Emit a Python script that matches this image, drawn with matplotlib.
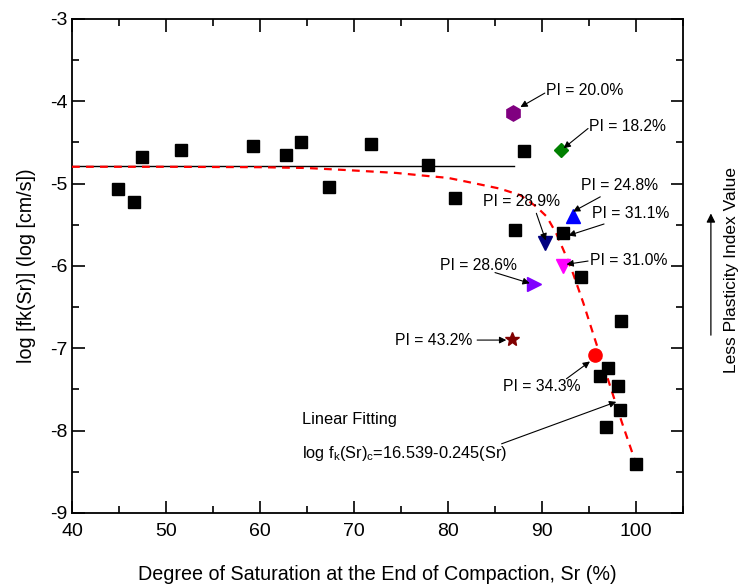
import numpy as np
import matplotlib.pyplot as plt
from matplotlib.ticker import MultipleLocator

plt.rcParams["font.family"] = ["Liberation Sans", "DejaVu Sans"]
plt.rcParams["axes.unicode_minus"] = False

# ===== Data =====
# black squares: Sr (%), log fk(Sr)
sq_x = [44.9, 46.6, 47.4, 51.6, 59.3, 62.8, 64.4, 67.3, 71.8, 77.9, 80.7,
        88.1, 87.1, 92.2, 94.2, 98.4, 97.0, 96.2, 98.1, 98.3, 96.8, 100.0]
sq_y = [-5.06, -5.22, -4.68, -4.59, -4.54, -4.65, -4.50, -5.04, -4.52, -4.77, -5.17,
        -4.60, -5.56, -5.60, -6.13, -6.67, -7.24, -7.34, -7.46, -7.75, -7.95, -8.40]

# highlighted samples with plasticity index
pi_labels = ["20.0", "18.2", "24.8", "28.9", "31.0", "28.6", "43.2", "34.3"]
pi_x = [86.95, 92.0, 93.3, 90.3, 92.2, 89.1, 86.8, 95.6]
pi_y = [-4.14, -4.59, -5.39, -5.72, -6.00, -6.22, -6.89, -7.08]
pi_markers = ["h", "D", "^", "v", "v", ">", "*", "o"]
pi_colors = ["#800080", "#008000", "#0000FF", "#000080", "#FF00FF", "#8000FF", "#800000", "#FF0000"]

# fitted curve
fit_x = [40, 50, 60, 65, 69.2, 74.5, 78.1, 80, 83.0, 85.5, 87.7, 89.4, 90.5,
         91.5, 92.6, 93.3, 94.4, 95.6, 97.0, 98.5, 100]
fit_y = [-4.795, -4.795, -4.80, -4.81, -4.835, -4.87, -4.91, -4.93, -5.00, -5.06,
         -5.14, -5.28, -5.40, -5.60, -5.89, -6.09, -6.45, -6.88, -7.37, -7.90, -8.40]

# horizontal reference line
hline_x = [40, 87.0]
hline_y = [-4.79, -4.79]

fig = plt.figure(figsize=(7.44, 5.88), dpi=100)
ax = fig.add_axes([0.0968, 0.1276, 0.8212, 0.8401])

ax.plot(hline_x, hline_y, color="black", lw=1.0, zorder=2)
ax.plot(fit_x, fit_y, color="red", lw=1.6, linestyle=(0, (3.5, 2.8)), zorder=3)
ax.plot(sq_x, sq_y, "s", color="black", markersize=8.5, linestyle="none", zorder=4)

sizes = {"h": 11, "D": 7, "^": 10, "v": 10, ">": 10, "*": 10, "o": 9.5}
for x, y, m, c in zip(pi_x, pi_y, pi_markers, pi_colors):
    ax.plot(x, y, m, color=c, markersize=sizes[m], linestyle="none", zorder=5)

arrow = dict(arrowstyle="-|>", color="black", lw=0.8, mutation_scale=10, shrinkA=0, shrinkB=0)

# (label, text xy, arrow tail, arrow head)
ann = [
    ("PI = 20.0%", (90.4, -3.87), (90.3, -3.90), (87.7, -4.07)),
    ("PI = 18.2%", (95.0, -4.31), (94.9, -4.33), (92.3, -4.57)),
    ("PI = 24.8%", (94.2, -5.02), (96.2, -5.16), (93.3, -5.34)),
    ("PI = 28.9%", (83.7, -5.22), (89.4, -5.36), (90.4, -5.69)),
    ("PI = 31.1%", (95.3, -5.36), (96.6, -5.49), (92.8, -5.63)),
    ("PI = 31.0%", (95.1, -5.93), (94.9, -5.94), (92.6, -5.98)),
    ("PI = 28.6%", (79.1, -5.99), (85.0, -6.08), (88.7, -6.21)),
    ("PI = 43.2%", (74.4, -6.90), (83.1, -6.90), (86.2, -6.90)),
    ("PI = 34.3%", (85.9, -7.46), (92.6, -7.37), (95.1, -7.16)),
]
for txt, txy, tail, head in ann:
    ax.text(txy[0], txy[1], txt, fontsize=11.3, ha="left", va="center", zorder=6)
    ax.annotate("", xy=head, xytext=tail, arrowprops=arrow, zorder=6)

ax.text(64.5, -7.87, "Linear Fitting", fontsize=11.8, ha="left", va="center")
ax.text(64.5, -8.28, r"log f$_\mathregular{k}$(Sr)$_\mathregular{c}$=16.539-0.245(Sr)",
        fontsize=11.8, ha="left", va="center")
ax.annotate("", xy=(97.9, -7.65), xytext=(85.7, -8.16), arrowprops=arrow)

ax.set_xlim(40, 105)
ax.set_ylim(-9, -3)
ax.xaxis.set_major_locator(MultipleLocator(10))
ax.xaxis.set_minor_locator(MultipleLocator(5))
ax.yaxis.set_major_locator(MultipleLocator(1))
ax.yaxis.set_minor_locator(MultipleLocator(0.5))
ax.tick_params(which="both", direction="in", top=True, right=True, width=1.2, labelsize=14)
ax.tick_params(which="major", length=9)
ax.tick_params(which="minor", length=5)
ax.tick_params(axis="x", pad=7)
for sp in ax.spines.values():
    sp.set_linewidth(1.3)

ax.set_xlabel("Degree of Saturation at the End of Compaction, Sr (%)", fontsize=14.2, labelpad=18)
ax.set_ylabel("log [fk(Sr)] (log [cm/s])", fontsize=14.2, labelpad=10)

# right side note
fig.text(0.983, 0.54, "Less Plasticity Index Value", rotation=90, fontsize=12.5,
         ha="center", va="center")
ax.annotate("", xy=(0.9555, 0.637), xytext=(0.9555, 0.43), xycoords="figure fraction",
            textcoords="figure fraction",
            arrowprops=dict(arrowstyle="-|>", color="black", lw=0.9, mutation_scale=13,
                            shrinkA=0, shrinkB=0))

fig.savefig("out.png", dpi=100)
